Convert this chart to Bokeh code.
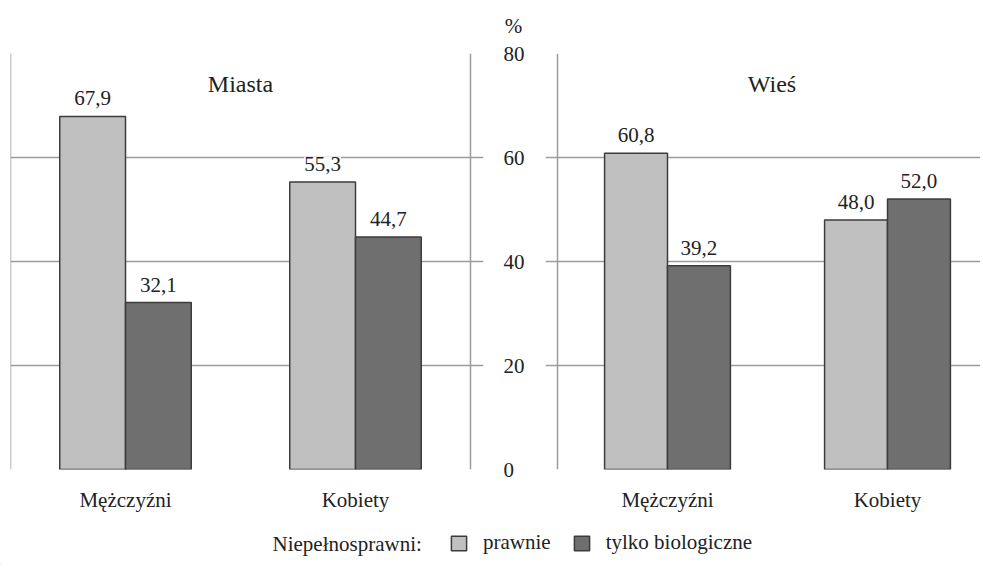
import numpy as np
from bokeh.plotting import figure
from bokeh.layouts import row, column
from bokeh.models import (Range1d, FixedTicker, LinearAxis, Label, LabelSet, ColumnDataSource,
                          Legend, LegendItem, Grid, Span)
from bokeh.core.properties import value
from bokeh.embed import file_html
from bokeh.resources import INLINE

# ---- data ----
categories = ["Mężczyźni", "Kobiety"]
panel_titles = ["Miasta", "Wieś"]
series_names = ["prawnie", "tylko biologiczne"]
miasta_prawnie = [67.9, 55.3]
miasta_biologiczne = [32.1, 44.7]
wies_prawnie = [60.8, 48.0]
wies_biologiczne = [39.2, 52.0]
y_ticks = [0, 20, 40, 60, 80]
legend_title = "Niepełnosprawni:"
unit_label = "%"

# ---- style ----
FONT = "Liberation Serif"
LIGHT = "#c0c0c0"
DARK = "#6f6f6f"
EDGE = "#3c3c3c"
GRID = "#9c9c9c"
TEXT = "#222222"
BAR_W = 0.286
TOP_STRIP = 40
H_PANEL = 484
TOP_B = 13
FRAME_H = 416


def fmt(v):
    return f"{v:.1f}".replace(".", ",")


def make_panel(title, prawnie, biolog, x_start, x_end, width, min_left, min_right, title_x):
    p = figure(width=width, height=H_PANEL, x_range=Range1d(x_start, x_end),
               y_range=Range1d(0, 80),
               output_backend="svg", toolbar_location=None,
               x_axis_location=None, y_axis_location=None,
               min_border_top=TOP_B, min_border_bottom=H_PANEL - TOP_B - FRAME_H,
               min_border_left=min_left, min_border_right=min_right)
    p.grid.visible = False
    p.outline_line_color = None

    p.add_layout(Grid(dimension=1, ticker=FixedTicker(ticks=y_ticks), grid_line_color=GRID,
                      grid_line_width=1.5, level="underlay"))

    xs = np.arange(len(categories)) + 0.5
    src = ColumnDataSource(dict(
        x1=xs - BAR_W / 2, x2=xs + BAR_W / 2,
        v1=prawnie, v2=biolog,
        t1=[fmt(v) for v in prawnie], t2=[fmt(v) for v in biolog]))
    p.vbar(x="x1", top="v1", width=BAR_W, source=src, fill_color=LIGHT,
           line_color=EDGE, line_width=1.5)
    p.vbar(x="x2", top="v2", width=BAR_W, source=src, fill_color=DARK,
           line_color=EDGE, line_width=1.5)
    for xk, vk, tk in (("x1", "v1", "t1"), ("x2", "v2", "t2")):
        p.add_layout(LabelSet(x=xk, y=vk, text=tk, source=src, y_offset=11,
                              text_align="center", text_baseline="bottom",
                              text_font=value(FONT), text_font_size="21px", text_color=TEXT,
                              background_fill_color="white"))

    p.add_layout(Label(x=title_x, y=74.2, text=title, text_align="center",
                       text_baseline="alphabetic", text_font=FONT,
                       text_font_size="24px", text_color=TEXT))

    xa = LinearAxis(ticker=FixedTicker(ticks=list(xs)),
                    major_label_overrides={float(x): c for x, c in zip(xs, categories)})
    xa.axis_line_color = None
    xa.major_tick_line_color = None
    xa.minor_tick_line_color = None
    xa.major_label_standoff = 12
    xa.major_label_text_font = FONT
    xa.major_label_text_font_size = "21px"
    xa.major_label_text_color = TEXT
    p.add_layout(xa, "below")
    return p


# left panel: frame 10..483 px (one category = 230 px); border lines at x=0 and x=2
left = make_panel(panel_titles[0], miasta_prawnie, miasta_biologiczne,
                  0.0, 473 / 230, 545, 10, 62, 1.0)
for loc in (0.0, float(len(categories))):
    left.add_layout(Span(location=loc, dimension="height", line_color=GRID, line_width=1.5))
ya = LinearAxis(ticker=FixedTicker(ticks=y_ticks))
ya.axis_line_color = None
ya.major_tick_line_color = None
ya.minor_tick_line_color = None
ya.major_tick_out = 0
ya.major_tick_in = 0
ya.major_label_standoff = 20
ya.major_label_text_font = FONT
ya.major_label_text_font_size = "21px"
ya.major_label_text_color = TEXT
left.add_layout(ya, "right")

# right panel: frame 545..980 px (one category = 220 px); border line at x=0
right = make_panel(panel_titles[1], wies_prawnie, wies_biologiczne,
                   -12 / 220, 423 / 220, 435, 0, 0, 0.975)
right.add_layout(Span(location=0.0, dimension="height", line_color=GRID, line_width=1.5))

# ---- top strip with the unit ----
top = figure(width=980, height=TOP_STRIP, x_range=Range1d(0, 980), y_range=Range1d(0, TOP_STRIP),
             output_backend="svg", toolbar_location=None,
             x_axis_location=None, y_axis_location=None, min_border=0)
top.grid.visible = False
top.outline_line_color = None
top.add_layout(Label(x=513, y=15, text=unit_label, text_align="center", text_baseline="middle",
                     text_font=FONT, text_font_size="21px", text_color=TEXT))

# ---- legend strip ----
lf = figure(width=980, height=40, x_range=Range1d(0, 980), y_range=Range1d(0, 40),
            output_backend="svg", toolbar_location=None,
            x_axis_location=None, y_axis_location=None,
            min_border=0)
lf.grid.visible = False
lf.outline_line_color = None
r1 = lf.vbar(x=[-100], top=[0], width=1, fill_color=LIGHT, line_color=EDGE, line_width=1.5)
r2 = lf.vbar(x=[-100], top=[0], width=1, fill_color=DARK, line_color=EDGE, line_width=1.5)
leg = Legend(items=[LegendItem(label=series_names[0], renderers=[r1]),
                    LegendItem(label=series_names[1], renderers=[r2])],
             orientation="horizontal", location=(449, 9),
             glyph_width=19, glyph_height=18, label_standoff=15, spacing=21,
             padding=0, margin=0, border_line_color=None, background_fill_alpha=0,
             label_text_font=FONT, label_text_font_size="21px", label_text_color=TEXT)
lf.add_layout(leg)
lf.add_layout(Label(x=272, y=21, text=legend_title, text_align="left", text_baseline="middle",
                    text_font=FONT, text_font_size="21px", text_color=TEXT))

layout = column(top, row(left, right), lf)
open("out.html", "w").write(file_html(layout, INLINE))
